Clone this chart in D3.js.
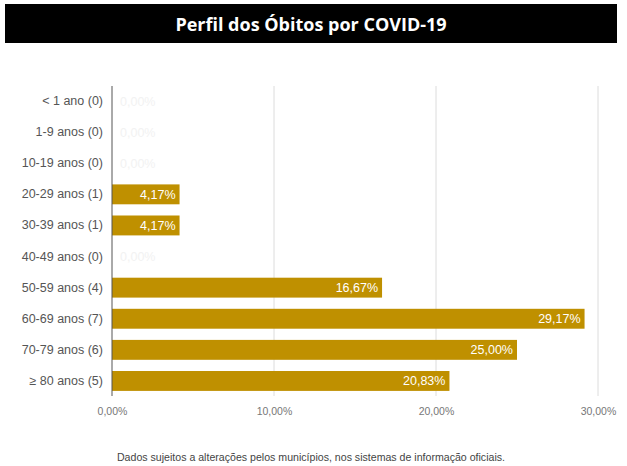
<!DOCTYPE html>
<html>
<head>
<meta charset="utf-8">
<script src="https://cdn.jsdelivr.net/npm/d3@7"></script>
<style>
  body { margin: 0; background: #fff; }
  svg { display: block; }
</style>
</head>
<body>
<svg id="chart"></svg>
<script>
// Data
const categories = ['< 1 ano (0)', '1-9 anos (0)', '10-19 anos (0)', '20-29 anos (1)', '30-39 anos (1)',
                    '40-49 anos (0)', '50-59 anos (4)', '60-69 anos (7)', '70-79 anos (6)', '≥ 80 anos (5)'];
const values = [0, 0, 0, 4.17, 4.17, 0, 16.67, 29.17, 25.00, 20.83];
const ticks = [0, 10, 20, 30];

const BAR = '#bf9000';
const width = 627, height = 466;

const svg = d3.select('svg#chart')
    .attr('width', width)
    .attr('height', height)
    .style('font-family', "'Liberation Sans', Arial, sans-serif");

// Title bar
svg.append('rect')
    .attr('x', 5).attr('y', 4)
    .attr('width', 612).attr('height', 39)
    .attr('fill', '#000');
svg.append('text')
    .attr('x', 311).attr('y', 31)
    .attr('text-anchor', 'middle')
    .attr('fill', '#fff')
    .style('font-family', "'Open Sans', sans-serif")
    .style('font-weight', 'bold')
    .style('font-size', '18px')
    .text('Perfil dos Óbitos por COVID-19');

const x = d3.scaleLinear().domain([0, 30]).range([112, 598]);
const y = d3.scaleBand().domain(categories).range([85.5, 396.5]).paddingInner(0.36).paddingOuter(0.18);

const fmt = v => d3.format('.2f')(v).replace('.', ',') + '%';

// Gridlines
svg.append('g').selectAll('line')
    .data(ticks.slice(1))
    .join('line')
    .attr('x1', d => x(d)).attr('x2', d => x(d))
    .attr('y1', 86).attr('y2', 396)
    .attr('stroke', '#dcdcdc');

// Bars
svg.append('g').selectAll('rect')
    .data(values)
    .join('rect')
    .attr('x', x(0))
    .attr('y', (d, i) => y(categories[i]))
    .attr('width', d => x(d) - x(0))
    .attr('height', y.bandwidth())
    .attr('fill', BAR);

// Value labels
svg.append('g').selectAll('text')
    .data(values)
    .join('text')
    .attr('x', d => d > 0 ? x(d) - 4 : x(0) + 8)
    .attr('y', (d, i) => y(categories[i]) + y.bandwidth() / 2)
    .attr('dy', '0.36em')
    .attr('text-anchor', d => d > 0 ? 'end' : 'start')
    .attr('fill', d => d > 0 ? '#fff' : '#f2f2f2')
    .style('font-size', '12.5px')
    .text(d => fmt(d));

// Y axis
const yAxis = svg.append('g')
    .attr('transform', `translate(${x(0)},0)`)
    .call(d3.axisLeft(y).tickSize(0).tickPadding(9));
yAxis.select('.domain').attr('stroke', '#555').attr('d', 'M0,86V396');
yAxis.selectAll('text').attr('fill', '#555').style('font-size', '12.5px');

// X axis labels
const xAxis = svg.append('g')
    .attr('transform', 'translate(0,404)')
    .call(d3.axisBottom(x).tickValues(ticks).tickSize(0).tickPadding(4).tickFormat(d => fmt(d)));
xAxis.select('.domain').remove();
xAxis.selectAll('text').attr('fill', '#777').style('font-size', '10.5px');

// Footer note
svg.append('text')
    .attr('x', 311).attr('y', 461)
    .attr('text-anchor', 'middle')
    .attr('fill', '#444')
    .style('font-size', '10.6px')
    .text('Dados sujeitos a alterações pelos municípios, nos sistemas de informação oficiais.');
</script>
</body>
</html>
